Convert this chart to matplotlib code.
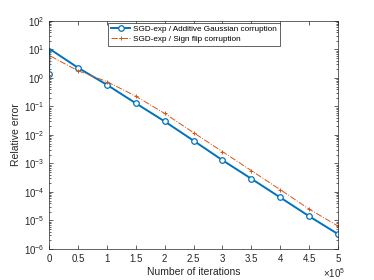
import matplotlib
matplotlib.use("Agg")
import matplotlib.pyplot as plt
from matplotlib.ticker import FuncFormatter, LogLocator, NullFormatter

plt.rcParams["font.family"] = ["Liberation Sans", "DejaVu Sans"]
plt.rcParams["mathtext.fontset"] = "custom"
plt.rcParams["mathtext.rm"] = "Liberation Sans"

# iterations (first step taken almost immediately, then every 5e4)
iters = [0, 1000, 50000, 100000, 150000, 200000, 250000,
         300000, 350000, 400000, 450000, 500000]
err_gauss = [1.35, 10.5, 2.3, 0.58, 0.13, 0.03, 0.0063,
             0.0013, 2.9e-4, 6.4e-5, 1.4e-5, 3.3e-6]
err_sign = [1.3, 6.1, 1.8, 0.75, 0.23, 0.057, 0.012,
            0.0026, 5.6e-4, 1.2e-4, 2.5e-5, 6.3e-6]
marker_idx = [0] + list(range(2, len(iters)))

label_gauss = "SGD-exp / Additive Gaussian corruption"
label_sign = "SGD-exp / Sign flip corruption"
x_scale = 1e5

axis_color = "#262626"

fig = plt.figure(figsize=(3.74, 2.80), dpi=100)
ax = fig.add_axes([0.131, 0.111, 0.773, 0.814])

ax.plot(iters, err_gauss, color="#0072BD", linewidth=1.4, marker="o",
        markersize=4, markerfacecolor="white", markeredgewidth=0.9,
        markevery=marker_idx, label=label_gauss)
ax.plot(iters, err_sign, color="#D95319", linewidth=0.7, linestyle="-.",
        marker="+", markersize=3.5, markeredgewidth=0.7,
        markevery=marker_idx, label=label_sign)

ax.set_yscale("log")
ax.set_ylim(1e-6, 1e2)
ax.set_xlim(0, 500000)
ax.set_xticks([i * 50000 for i in range(11)])
ax.yaxis.set_major_locator(LogLocator(base=10, numticks=20))
ax.yaxis.set_minor_locator(LogLocator(base=10, subs=range(2, 10), numticks=20))
ax.yaxis.set_minor_formatter(NullFormatter())
ax.xaxis.set_major_formatter(FuncFormatter(lambda v, p: f"{v / x_scale:g}"))

ax.tick_params(which="both", direction="in", top=True, right=True,
               colors=axis_color, labelsize=7, width=0.5, pad=3.5)
ax.tick_params(which="major", length=3)
ax.tick_params(which="minor", length=1.5)
for sp in ax.spines.values():
    sp.set_linewidth(0.5)
    sp.set_color(axis_color)

ax.text(0.985, -0.075, r"$\times 10^5$", transform=ax.transAxes, ha="center",
        va="top", fontsize=7, color=axis_color)

ax.set_xlabel("Number of iterations", fontsize=7.5, color=axis_color, labelpad=2)
ax.set_ylabel("Relative error", fontsize=7.5, color=axis_color, labelpad=2)

leg = ax.legend(loc="upper left", bbox_to_anchor=(0.205, 0.993), fontsize=5.9,
                fancybox=False, framealpha=1, edgecolor=axis_color,
                handlelength=2.3, handletextpad=0.4, borderpad=0.35,
                labelspacing=0.25, borderaxespad=0.0)
leg.get_frame().set_linewidth(0.5)

fig.savefig("out.png", dpi=100)
